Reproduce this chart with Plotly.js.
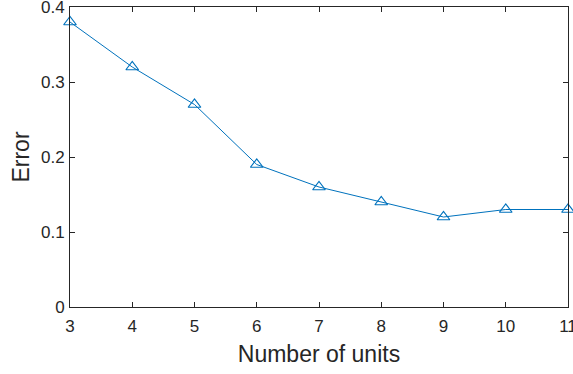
<!DOCTYPE html>
<html><head><meta charset="utf-8">
<script src="https://cdn.plot.ly/plotly-3.0.1.min.js"></script>
<style>html,body{margin:0;padding:0;background:#fff;}</style>
</head><body>
<div id="chart" style="width:573px;height:374px;"></div>
<script>
const units = [3, 4, 5, 6, 7, 8, 9, 10, 11];
const errors = [0.38, 0.32, 0.27, 0.19, 0.16, 0.14, 0.12, 0.13, 0.13];
const xTicks = [3, 4, 5, 6, 7, 8, 9, 10, 11];
const yTicks = [0, 0.1, 0.2, 0.3, 0.4];
const yTickText = ['0', '0.1', '0.2', '0.3', '0.4'];

const axisColor = '#262626';
const trace = {
  x: units, y: errors, type: 'scatter', mode: 'lines+markers',
  line: {color: '#0072BD', width: 1},
  marker: {symbol: 'triangle-up-open', size: 11, color: '#0072BD', line: {width: 1.2, color: '#0072BD'}},
  cliponaxis: false
};
const layout = {
  width: 573, height: 374,
  margin: {l: 70, r: 5, t: 7, b: 67},
  paper_bgcolor: '#fff', plot_bgcolor: '#fff',
  showlegend: false,
  font: {family: 'Liberation Sans, Arial, sans-serif', color: axisColor},
  xaxis: {
    range: [3, 11], tickvals: xTicks, ticktext: xTicks.map(String),
    ticks: 'inside', ticklen: 5, tickcolor: axisColor, tickwidth: 1,
    showline: true, linecolor: axisColor, linewidth: 1, mirror: 'ticks',
    showgrid: false, zeroline: false, automargin: false,
    ticklabeloverflow: 'allow',
    tickfont: {size: 17, color: axisColor}, ticklabelstandoff: 4,
    title: {text: 'Number of units', font: {size: 23, color: axisColor}, standoff: 10}
  },
  yaxis: {
    range: [0, 0.4], tickvals: yTicks, ticktext: yTickText,
    ticks: 'inside', ticklen: 5, tickcolor: axisColor, tickwidth: 1,
    showline: true, linecolor: axisColor, linewidth: 1, mirror: 'ticks',
    showgrid: false, zeroline: false, automargin: false,
    ticklabeloverflow: 'allow',
    tickfont: {size: 17, color: axisColor}, ticklabelstandoff: 1,
    title: {text: 'Error', font: {size: 23, color: axisColor}, standoff: 4}
  }
};
Plotly.newPlot('chart', [trace], layout, {displayModeBar: false, staticPlot: true});
</script>
</body></html>
